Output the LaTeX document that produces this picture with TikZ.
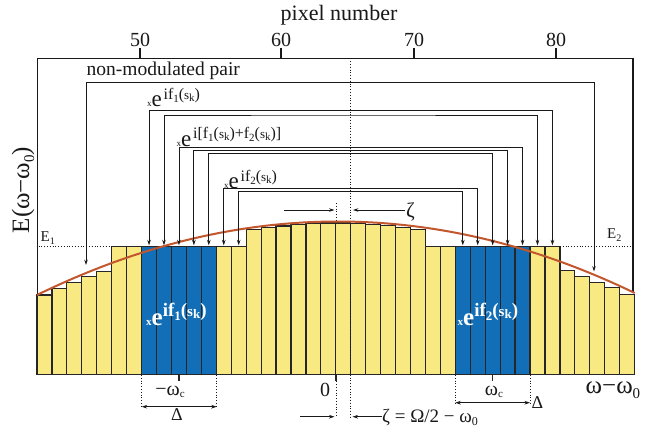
\documentclass[tikz,border=0pt]{standalone}
\usepackage{fontspec}
\setmainfont{Liberation Serif}
\usetikzlibrary{arrows.meta}
\definecolor{baryel}{RGB}{248,233,130}
\definecolor{barblue}{RGB}{18,110,182}
\definecolor{curvered}{RGB}{194,86,44}
\definecolor{edgec}{RGB}{38,38,38}
\definecolor{inkc}{RGB}{25,25,25}
\newcommand{\fsz}[1]{\fontsize{#1}{#1}\selectfont}
\newcommand{\sbs}[3]{\raisebox{-#1pt}{\fsz{#2}#3}}
\newcommand{\fk}[1]{f\sbs{3}{11}{#1}({\fsz{13}s}\sbs{2}{11}{k})}
\newcommand{\xlab}[1]{{\fsz{9}x}{\fsz{23}e}\,\raisebox{7.5pt}{\fsz{16}#1}}
\newcommand{\fkB}[1]{f\sbs{4}{13}{#1}({\fsz{15}s}\sbs{2}{13}{k})}
\newcommand{\xlabB}[1]{{\bfseries{\fsz{11}x}{\fsz{25}e}\raisebox{9pt}{\fsz{19}#1}}}
\begin{document}
\begin{tikzpicture}[x=1pt,y=-1pt,
  bar/.style={draw=edgec, line width=1.2pt},
  framel/.style={line width=1.5pt, draw=inkc},
  brk/.style={line width=0.75pt, draw=inkc, {Stealth[length=5.5pt,width=3.6pt]}-{Stealth[length=5.5pt,width=3.6pt]}},
  tipr/.style={line width=0.75pt, draw=inkc, -{Stealth[length=5.5pt,width=3.6pt]}},
  dbl/.style={line width=0.75pt, draw=inkc, {Stealth[length=5.5pt,width=3.6pt]}-{Stealth[length=5.5pt,width=3.6pt]}},
  dotl/.style={line width=0.8pt, draw=inkc, dotted},
  curvel/.style={line width=2pt, draw=curvered},
  txt/.style={text=inkc, inner sep=0pt}]
\useasboundingbox (0,0) rectangle (646,431);
\fill[white] (0,0) rectangle (646,431);

% bars
\foreach \i/\h/\c in {0/295/baryel,1/288.8/baryel,2/282.8/baryel,3/276.8/baryel,4/271.2/baryel,
  5/246.3/baryel,6/246.3/baryel,7/246.3/barblue,8/246.3/barblue,9/246.3/barblue,10/246.3/barblue,
  11/246.3/barblue,12/246.3/baryel,13/246.3/baryel,14/229.8/baryel,15/227.3/baryel,16/226/baryel,
  17/224.7/baryel,18/223.8/baryel,19/223/baryel,20/223/baryel,21/223.5/baryel,22/224.3/baryel,
  23/225.8/baryel,24/227.3/baryel,25/229.5/baryel,26/246.5/baryel,27/246.5/baryel,28/246.5/barblue,
  29/246.5/barblue,30/246.5/barblue,31/246.5/barblue,32/246.5/barblue,33/246.5/baryel,34/246.5/baryel,
  35/270.8/baryel,36/276.3/baryel,37/282.3/baryel,38/287.8/baryel,39/294.5/baryel}{
  \pgfmathsetmacro\xa{37+\i*14.94}
  \pgfmathsetmacro\xb{37+(\i+1)*14.94}
  \draw[bar, fill=\c] (\xa,374.3) rectangle (\xb,\h);
}

% frame and top axis
\coordinate (fbl) at (37.5,295);
\coordinate (ftl) at (37.5,58.3);
\coordinate (ftr) at (633,58.3);
\coordinate (fbr) at (633,292.5);
\draw[framel] (fbl) -- (ftl) -- (ftr) -- (fbr);
\foreach \x/\t in {140/50,281/60,414/70,556/80}{
  \coordinate (tk\t) at (\x,58.3);
  \draw[framel] (tk\t) -- ++(0,-10.5);
  \node[txt, font=\fsz{20}, anchor=base] (lb\t) at (\x,46.5) {\t};
}
\node[txt, font=\fsz{22}, anchor=base] (title) at (339,20) {pixel number};

% E1 / E2 dotted levels
\coordinate (e1a) at (38.5,246.3); \coordinate (e1b) at (111.7,246.3);
\draw[dotl] (e1a) -- (e1b);
\coordinate (e2a) at (559.9,246.5); \coordinate (e2b) at (632,246.5);
\draw[dotl] (e2a) -- (e2b);
\node[txt, font=\fsz{15}, anchor=base west] (E1) at (40.5,241.5) {E\sbs{3}{10}{1}};
\node[txt, font=\fsz{15}, anchor=base west] (E2) at (607,238.5) {E\sbs{3}{10}{2}};

% central dotted lines
\coordinate (ca) at (350.7,58.3); \coordinate (cb) at (350.7,418);
\draw[dotl] (ca) -- (cb);
\coordinate (cc) at (336,203); \coordinate (cd) at (336,222);
\draw[dotl] (cc) -- (cd);

% curve
\draw[curvel] (37,295) .. controls (236.3,197.7) and (435.6,197) .. (634.7,293);

% brackets
\foreach \n in {7,...,13,28,29,30,31,32,33,34}{
  \coordinate (b\n) at ({37+(\n+0.5)*14.94},245.3);
}
\coordinate (nmL) at (86,265); \coordinate (nmR) at (594,271.5);
\coordinate (t0) at (336,82.7);
\coordinate (t1) at (336,110.3);
\coordinate (t2) at (336,115);
\coordinate (t3) at (336,147.5);
\coordinate (t4) at (336,150.3);
\coordinate (t5) at (336,153.2);
\coordinate (t6) at (336,188.8);
\coordinate (t7) at (336,191.8);
\draw[brk] (nmL) |- (t0) -| (nmR);
\draw[brk] (b7) |- (t1) -| (b34);
\draw[brk] (b8) |- (t2) -| (b33);
\draw[brk] (b9) |- (t3) -| (b32);
\draw[brk] (b10) |- (t4) -| (b31);
\draw[brk] (b11) |- (t5) -| (b30);
\draw[brk] (b12) |- (t6) -| (b29);
\draw[brk] (b13) |- (t7) -| (b28);

% bracket labels
\node[txt, font=\fsz{19.5}, anchor=base west] (nm) at (86.5,75.5) {non-modulated pair};
\node[txt, anchor=base west] (l1) at (147,106.5) {\xlab{i\fk{1}}};
\node[txt, anchor=base west] (l2) at (176.5,146) {\xlab{i[\fk{1}+\fk{2}]}};
\node[txt, anchor=base west] (l3) at (224,188.5) {\xlab{i\fk{2}}};

% in-bar labels
\node[txt, text=white, anchor=base west] (w1) at (146,325) {\xlabB{i\fkB{1}}};
\node[txt, text=white, anchor=base west] (w2) at (457.5,325) {\xlabB{i\fkB{2}}};

% top zeta arrows
\coordinate (za) at (284,210); \coordinate (zb) at (334.5,210);
\coordinate (zc) at (405,210); \coordinate (zd) at (353,210);
\draw[tipr] (za) -- (zb);
\draw[tipr] (zc) -- (zd);
\node[txt, font=\fsz{21}, anchor=base west] (zeta) at (406,217.5) {ζ};

% axis labels
\node[txt, font=\fsz{25}, rotate=90] (ylab) at (23,190) {E(ω−ω\sbs{5}{15}{0})};
\node[txt, font=\fsz{25}, anchor=base west] (xlab) at (585.5,393.5) {ω−ω\sbs{5}{15}{0}};

% bottom ticks and labels
\foreach \x/\nm in {178.9/tl,336/tc,492.6/tr}{
  \coordinate (\nm) at (\x,374.3);
  \draw[line width=1.2pt, draw=edgec] (\nm) -- ++(0,7);
}
\node[txt, font=\fsz{20}, anchor=base] (wcl) at (170,395) {−ω\sbs{2}{11}{c}};
\node[txt, font=\fsz{20}, anchor=base] (wcr) at (494,395) {ω\sbs{2}{11}{c}};
\node[txt, font=\fsz{20}, anchor=base] (zero) at (325,396.5) {0};

% delta brackets
\coordinate (d1a) at (141.7,375); \coordinate (d1b) at (141.7,408);
\coordinate (d1c) at (216.7,375); \coordinate (d1d) at (216.7,408);
\draw[dotl] (d1a) -- (d1b); \draw[dotl] (d1c) -- (d1d);
\coordinate (d1e) at (141.7,406.7); \coordinate (d1f) at (216.7,406.7);
\draw[dbl] (d1e) -- (d1f);
\node[txt, font=\fsz{18}, anchor=base] (D1) at (177,420) {Δ};
\coordinate (d2a) at (455.3,375); \coordinate (d2b) at (455.3,404.5);
\coordinate (d2c) at (530,375); \coordinate (d2d) at (530,404.5);
\draw[dotl] (d2a) -- (d2b); \draw[dotl] (d2c) -- (d2d);
\coordinate (d2e) at (455.3,402.7); \coordinate (d2f) at (530,402.7);
\draw[dbl] (d2e) -- (d2f);
\node[txt, font=\fsz{18}, anchor=base west] (D2) at (531.5,408.5) {Δ};

% bottom zeta
\coordinate (bz1) at (336,381.3); \coordinate (bz2) at (336,417);
\draw[dotl] (bz1) -- (bz2);
\coordinate (ba) at (300,416.7); \coordinate (bb) at (334.5,416.7);
\draw[tipr] (ba) -- (bb);
\node[txt, font=\fsz{19}, anchor=base west] (zlab) at (382,422) {ζ = Ω/2 − ω\sbs{3}{12}{0}};
\coordinate (bd) at (352.5,416.7);
\draw[tipr] (zlab.west |- bd) -- (bd);
\end{tikzpicture}
\end{document}
